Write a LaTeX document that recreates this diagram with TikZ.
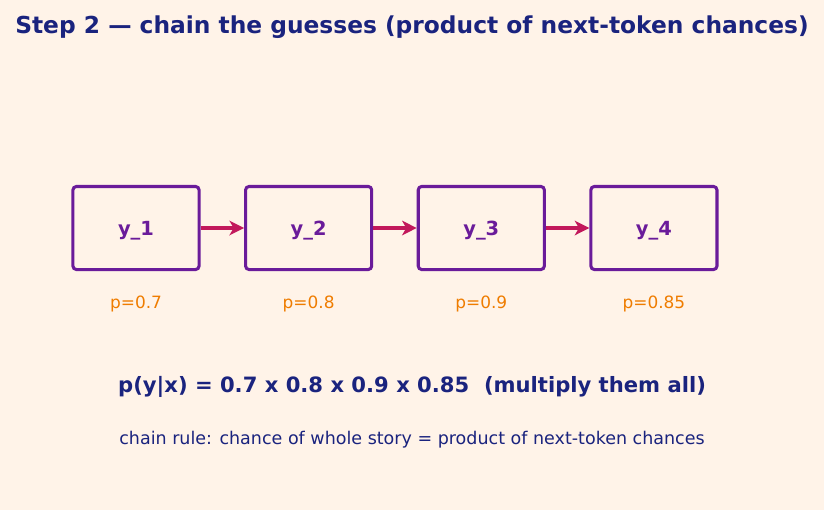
\documentclass[tikz,border=0pt]{standalone}
\usepackage{fontspec}
\setmainfont{DejaVu Sans}
\usetikzlibrary{arrows.meta, positioning}
\definecolor{fondo}{HTML}{FFF3E8}
\definecolor{moradoCaja}{HTML}{6A1B9A}
\definecolor{rojoFlecha}{HTML}{C2185B}
\definecolor{naranjaProb}{HTML}{EF7C00}
\definecolor{azulTexto}{HTML}{1A237E}
\tikzset{
  cajaToken/.style={
    draw=moradoCaja, line width=2.2pt, rounded corners=2.5pt,
    minimum width=90.8pt, minimum height=59.8pt,
    font=\fontsize{14}{17}\selectfont\bfseries, text=moradoCaja,
    text depth=0pt, fill=none
  },
  flecha/.style={-{Stealth[length=10.5pt, width=10.5pt, inset=3pt]}, line width=2.2pt, rojoFlecha},
  etiquetaProb/.style={font=\fontsize{12.2}{14}\selectfont, text=naranjaProb},
}
\begin{document}
\begin{tikzpicture}[x=0.72pt, y=-0.72pt, node distance=31.3pt]
  \fill[fondo] (0,0) rectangle (824,510);
  \useasboundingbox (0,0) rectangle (824,510);
  \node[font=\fontsize{16.8}{20}\selectfont\bfseries, text=azulTexto] (titulo) at (412,27)
    {Step 2 — chain the guesses (product of next-token chances)};
  % los cuatro tokens
  \node[cajaToken] (y1) at (136,228) {y\_1};
  \node[cajaToken, right=of y1] (y2) {y\_2};
  \node[cajaToken, right=of y2] (y3) {y\_3};
  \node[cajaToken, right=of y3] (y4) {y\_4};
  \draw[flecha] (y1) -- (y2);
  \draw[flecha] (y2) -- (y3);
  \draw[flecha] (y3) -- (y4);
  % probabilidades
  \node[etiquetaProb, below=14.5pt of y1] (p1) {p=0.7};
  \node[etiquetaProb, below=14.5pt of y2] (p2) {p=0.8};
  \node[etiquetaProb, below=14.5pt of y3] (p3) {p=0.9};
  \node[etiquetaProb, below=14.5pt of y4] (p4) {p=0.85};
  \node[font=\fontsize{15.2}{18}\selectfont\bfseries, text=azulTexto] (formula) at (412,387)
    {p(y|x) = 0.7 x 0.8 x 0.9 x 0.85\ \ (multiply them all)};
  \node[font=\fontsize{12.6}{15}\selectfont, text=azulTexto] (regla) at (412,440)
    {chain rule: chance of whole story = product of next-token chances};
\end{tikzpicture}
\end{document}
